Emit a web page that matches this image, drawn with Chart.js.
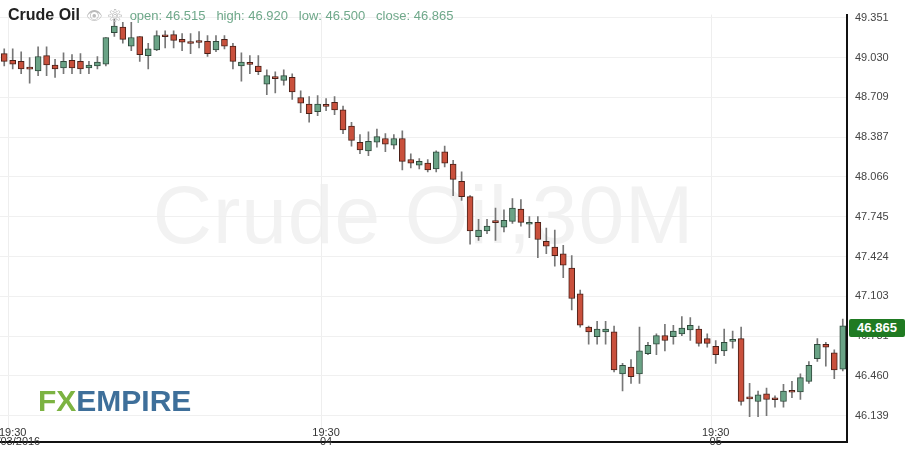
<!DOCTYPE html>
<html><head><meta charset="utf-8">
<script src="https://cdn.jsdelivr.net/npm/chart.js@4"></script>
<style>
body{margin:0;background:#fff;font-family:Arial,"Liberation Sans",sans-serif}
#wrap{position:relative;width:910px;height:457px;overflow:hidden}
#wm{position:absolute;left:0;width:847px;top:168px;text-align:center;font-size:82px;color:#f2f2f2;letter-spacing:1px}
canvas{position:relative}
#title{position:absolute;left:8px;top:6px;font-size:16px;color:#222}
#title b{font-weight:bold}
#title span{color:#6fa88a;font-size:13px}
#title i{color:#bbb;font-style:normal;font-size:13px;margin:0 6px}
#logo{position:absolute;left:38px;top:384px;font-size:30px;font-weight:bold}
#last{position:absolute;left:849px;top:319px;width:56px;height:18px;background:#1f7a22;color:#fff;font-weight:bold;font-size:13px;line-height:18px;text-align:center;border-radius:2px}
</style></head><body>
<div id="wrap">
<div id="wm">Crude Oil,30M</div>
<canvas id="c" width="910" height="457"></canvas>
<div id="title"><b>Crude Oil</b><i>👁 ⚙</i><span>open: 46.515&nbsp;&nbsp; high: 46.920&nbsp;&nbsp; low: 46.500&nbsp;&nbsp; close: 46.865</span></div>
<div id="logo"><span style="color:#7cb342">FX</span><span style="color:#3e6f9a">EMPIRE</span></div>
<div id="last">46.865</div>
</div>
<script>
const openV=[49.061,49.007,48.999,48.938,48.922,49.045,48.969,48.945,49.007,48.999,48.945,48.961,48.976,49.230,49.276,49.122,49.199,49.045,49.091,49.199,49.215,49.176,49.145,49.153,49.161,49.091,49.176,49.122,48.961,48.976,48.961,48.815,48.861,48.845,48.869,48.707,48.653,48.592,48.638,48.669,48.607,48.476,48.346,48.276,48.346,48.376,48.323,48.376,48.207,48.161,48.177,48.130,48.269,48.169,48.030,47.907,47.585,47.631,47.700,47.661,47.707,47.807,47.684,47.700,47.546,47.500,47.446,47.331,47.123,46.854,46.777,46.816,46.816,46.477,46.531,46.477,46.639,46.716,46.785,46.777,46.800,46.831,46.839,46.762,46.700,46.662,46.739,46.762,46.277,46.254,46.316,46.270,46.254,46.331,46.331,46.416,46.600,46.716,46.647,46.515];
const highV=[49.099,49.099,49.076,49.030,49.115,49.115,49.015,49.068,49.053,49.061,48.999,49.038,49.191,49.338,49.314,49.314,49.199,49.145,49.245,49.245,49.245,49.222,49.222,49.238,49.207,49.207,49.207,49.145,49.068,49.045,49.045,48.930,48.915,48.930,48.899,48.761,48.715,48.722,48.699,48.715,48.638,48.507,48.407,48.430,48.453,48.415,48.407,48.438,48.253,48.215,48.207,48.276,48.315,48.200,48.107,47.915,47.723,47.723,47.815,47.800,47.892,47.884,47.746,47.746,47.654,47.638,47.515,47.431,47.154,46.862,46.900,46.900,46.862,46.562,46.593,46.854,46.731,46.800,46.877,46.869,46.939,46.931,46.862,46.800,46.746,46.839,46.823,46.854,46.400,46.339,46.362,46.300,46.393,46.416,46.477,46.577,46.762,46.731,46.670,46.920];
const lowV=[48.961,48.938,48.899,48.822,48.884,48.884,48.869,48.899,48.899,48.899,48.899,48.938,48.961,49.199,49.145,49.084,48.999,48.938,49.084,49.107,49.107,49.084,49.061,49.107,49.038,49.076,49.099,48.938,48.838,48.899,48.892,48.730,48.745,48.807,48.692,48.584,48.507,48.561,48.600,48.569,48.415,48.315,48.253,48.238,48.307,48.269,48.292,48.123,48.138,48.130,48.107,48.107,48.146,47.915,47.877,47.523,47.554,47.608,47.554,47.623,47.692,47.669,47.577,47.415,47.446,47.346,47.254,46.992,46.854,46.716,46.716,46.716,46.493,46.339,46.400,46.400,46.631,46.631,46.662,46.716,46.785,46.746,46.700,46.693,46.562,46.623,46.685,46.224,46.131,46.131,46.139,46.208,46.208,46.285,46.270,46.400,46.577,46.539,46.439,46.500];
const closeV=[48.999,48.976,48.938,48.936,49.038,48.969,48.938,48.999,48.945,48.938,48.969,48.992,49.191,49.284,49.176,49.191,49.053,49.099,49.207,49.197,49.168,49.153,49.143,49.151,49.061,49.161,49.122,48.999,48.992,48.974,48.915,48.884,48.859,48.884,48.753,48.661,48.576,48.653,48.636,48.607,48.446,48.361,48.284,48.353,48.392,48.330,48.376,48.192,48.177,48.192,48.123,48.269,48.177,48.046,47.907,47.631,47.638,47.669,47.698,47.715,47.815,47.700,47.700,47.561,47.508,47.431,47.354,47.085,46.869,46.816,46.839,46.839,46.508,46.546,46.454,46.662,46.708,46.785,46.746,46.823,46.846,46.869,46.723,46.723,46.631,46.731,46.754,46.254,46.275,46.308,46.270,46.268,46.339,46.329,46.447,46.546,46.716,46.693,46.508,46.865];
const tickLabelsX={1:['19:30','07/03/2016'],38:['19:30','04'],84:['19:30','05']};
const priceTicks=[46.139,46.460,46.781,47.103,47.424,47.745,48.066,48.387,48.709,49.030,49.351];
const cats=openV.map((_,i)=>i);
const up=openV.map((o,i)=>closeV[i]>=o);
const body=openV.map((o,i)=>[Math.min(o,closeV[i]),Math.max(o,closeV[i])]);
const wick=lowV.map((l,i)=>[l,highV[i]]);
const xLabels={id:'xl',afterDraw(ch){const c=ch.ctx,x=ch.scales.x;c.save();c.fillStyle='#333';c.font='11px Arial';c.textAlign='center';
for(const k in tickLabelsX){const px=x.getPixelForValue(+k);c.fillText(tickLabelsX[k][0],px,436);c.fillText(tickLabelsX[k][1],px,445);}c.restore();}};
new Chart(document.getElementById('c'),{type:'bar',
data:{labels:cats,datasets:[
{data:wick,backgroundColor:'#777',barThickness:1,grouped:false,order:2},
{data:body,backgroundColor:up.map(u=>u?'#6aa386':'#c9503c'),borderColor:up.map(u=>u?'#2f4a3c':'#4a2018'),borderWidth:1,borderSkipped:false,barThickness:6,minBarLength:2,grouped:false,order:1}]},
options:{responsive:false,animation:false,layout:{padding:{top:-14,bottom:-7,left:0,right:0}},
plugins:{legend:{display:false},tooltip:{enabled:false}},
scales:{
x:{offset:true,grid:{color:c=>tickLabelsX[c.index]?'#eee':'rgba(0,0,0,0)',drawTicks:false},ticks:{display:false},border:{color:'#111',width:2},afterFit:s=>{s.height=8}},
y:{position:'right',min:45.924,max:49.376,afterBuildTicks:s=>{s.ticks=priceTicks.map(v=>({value:v}))},
ticks:{color:'#444',font:{size:11,family:'Arial'},padding:8,callback:v=>v.toFixed(3)},
grid:{color:'#f0f0f0',drawTicks:false},border:{color:'#111',width:2},afterFit:s=>{s.width=63}}}},
plugins:[xLabels]});
</script>
</body></html>
